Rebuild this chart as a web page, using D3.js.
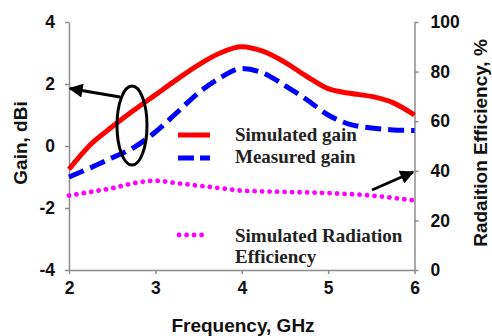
<!DOCTYPE html>
<html><head><meta charset="utf-8">
<script src="https://cdn.jsdelivr.net/npm/d3@7"></script>
<style>html,body{margin:0;padding:0;background:#fff;}svg{display:block;}</style>
</head><body>
<svg id="c" width="492" height="336"></svg>
<script>
const freq = [2.0,2.25,2.5,2.75,3.0,3.25,3.5,3.75,4.0,4.25,4.5,4.75,5.0,5.25,5.5,5.75,6.0];
const simGain = [-0.75,0.05,0.62,1.15,1.65,2.15,2.62,3.0,3.2,3.05,2.7,2.25,1.85,1.7,1.6,1.4,1.0];
const measGain = [-1.0,-0.7,-0.38,-0.05,0.45,1.08,1.72,2.2,2.5,2.35,1.95,1.5,1.0,0.7,0.58,0.52,0.5];
const effFreq = [2.0,2.25,2.5,2.75,3.0,3.25,3.5,3.75,4.0,4.5,5.0,5.5,6.0];
const simEff = [30,31.5,33,35,36,35,34,33,32,31.5,31,30,28];
const xTicks = [2,3,4,5,6];
const gainTicks = [-4,-2,0,2,4];
const effTicks = [0,20,40,60,80,100];
const legendLabels = ["Simulated gain","Measured gain","Simulated Radiation","Efficiency"];

const svg = d3.select("#c");
const x = d3.scaleLinear().domain([2,6]).range([69,414.5]);
const yG = d3.scaleLinear().domain([-4,4]).range([270,22]);
const yE = d3.scaleLinear().domain([0,100]).range([270,22]);
const axisColor = "#8c8c8c";
const sans = "'Liberation Sans', Arial, sans-serif";
const serif = "'Liberation Serif', 'Times New Roman', serif";
const fmt = d => String(d);

function styleAxis(g){
  g.selectAll("path").attr("stroke",axisColor).attr("stroke-width",1.5);
  g.selectAll("line").attr("stroke",axisColor).attr("stroke-width",1.5);
  g.selectAll("text").attr("font-family",sans).attr("font-weight","bold").attr("font-size","17.5px").attr("fill","#111");
}
const gx = svg.append("g").attr("transform","translate(0,270)")
  .call(d3.axisBottom(x).tickValues(xTicks).tickSize(4).tickSizeOuter(0).tickPadding(8).tickFormat(fmt));
styleAxis(gx);
const gl = svg.append("g").attr("transform","translate(69,0)")
  .call(d3.axisLeft(yG).tickValues(gainTicks).tickSize(4).tickSizeOuter(0).tickPadding(10).tickFormat(fmt));
styleAxis(gl);
const gr = svg.append("g").attr("transform","translate(414.5,0)")
  .call(d3.axisRight(yE).tickValues(effTicks).tickSize(4).tickSizeOuter(0).tickPadding(12).tickFormat(fmt));
styleAxis(gr);

// titles
svg.append("text").attr("x",243).attr("y",332).attr("text-anchor","middle")
  .attr("font-family",sans).attr("font-weight","bold").attr("font-size","19px").attr("fill","#111").text("Frequency, GHz");
svg.append("text").attr("transform","translate(27,143) rotate(-90)").attr("text-anchor","middle")
  .attr("font-family",sans).attr("font-weight","bold").attr("font-size","19px").attr("fill","#111").text("Gain, dBi");
svg.append("text").attr("transform","translate(487,143) rotate(-90)").attr("text-anchor","middle")
  .attr("font-family",sans).attr("font-weight","bold").attr("font-size","19px").attr("fill","#111").text("Radaition Efficiency, %");

// curves
const lineG = d3.line().x((d,i)=>x(freq[i])).y(d=>yG(d)).curve(d3.curveMonotoneX);
svg.append("path").attr("d",lineG(simGain)).attr("fill","none").attr("stroke","#ff0000").attr("stroke-width",5);
svg.append("path").attr("d",lineG(measGain)).attr("fill","none").attr("stroke","#0000ff").attr("stroke-width",5).attr("stroke-dasharray","16,7");
const lineE = d3.line().x((d,i)=>x(effFreq[i])).y(d=>yE(d)).curve(d3.curveMonotoneX);
svg.append("path").attr("d",lineE(simEff)).attr("fill","none").attr("stroke","#ff00ff").attr("stroke-width",4.8)
  .attr("stroke-linecap","round").attr("stroke-dasharray","0.1,7.4");

// legend
svg.append("line").attr("x1",178).attr("x2",210).attr("y1",135).attr("y2",135).attr("stroke","#ff0000").attr("stroke-width",5);
svg.append("line").attr("x1",178).attr("x2",210).attr("y1",158).attr("y2",158).attr("stroke","#0000ff").attr("stroke-width",5).attr("stroke-dasharray","16,6");
svg.append("line").attr("x1",179).attr("x2",204).attr("y1",235).attr("y2",235).attr("stroke","#ff00ff").attr("stroke-width",4.8).attr("stroke-linecap","round").attr("stroke-dasharray","0.1,7.4");
const lp = [[235,141],[235,163],[235,242],[235,263]];
legendLabels.forEach((t,i)=>{
  svg.append("text").attr("x",lp[i][0]).attr("y",lp[i][1]).attr("font-family",serif).attr("font-weight","bold")
    .attr("font-size","19px").attr("fill","#222").text(t);
});

// annotations
svg.append("ellipse").attr("cx",132).attr("cy",125.5).attr("rx",15).attr("ry",39.5).attr("fill","none").attr("stroke","#000").attr("stroke-width",3);
const defs = svg.append("defs");
defs.append("marker").attr("id","ah").attr("viewBox","0 0 10 10").attr("refX",9).attr("refY",5)
  .attr("markerWidth",5.5).attr("markerHeight",5).attr("markerUnits","strokeWidth").attr("orient","auto")
  .append("path").attr("d","M0,0 L10,5 L0,10 z").attr("fill","#000");
svg.append("line").attr("x1",120).attr("y1",97).attr("x2",70).attr("y2",88.5).attr("stroke","#000").attr("stroke-width",2.8).attr("marker-end","url(#ah)");
svg.append("line").attr("x1",372).attr("y1",190).attr("x2",413).attr("y2",172).attr("stroke","#000").attr("stroke-width",2.8).attr("marker-end","url(#ah)");
</script>
</body></html>
